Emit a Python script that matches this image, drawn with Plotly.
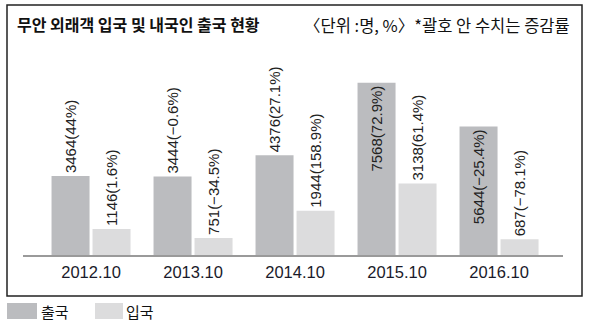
import plotly.graph_objects as go

# Data: departures (출국) and arrivals (입국), with year-over-year change in %
periods = ["2012.10", "2013.10", "2014.10", "2015.10", "2016.10"]
departures = [3464, 3444, 4376, 7568, 5644]
departures_pct = [44, -0.6, 27.1, 72.9, -25.4]
arrivals = [1146, 751, 1944, 3138, 687]
arrivals_pct = [1.6, -34.5, 158.9, 61.4, -78.1]

DARK = "#bbbcbf"
LIGHT = "#dcdcdd"
NUM_FONT = "Liberation Sans, Arial, sans-serif"
KR_FONT = "Noto Sans CJK KR, sans-serif"


def fmt_pct(p):
    s = f"{p:g}"
    return s.replace("-", "\u2212")


def labels(values, pcts):
    return [f"{v}({fmt_pct(p)}%)" for v, p in zip(values, pcts)]


# Put the label inside the top of a bar only when the bar is tall enough
def positions(values):
    return ["inside" if v > 5000 else "outside" for v in values]


fig = go.Figure()
for name, vals, pcts, color in [
    ("출국", departures, departures_pct, DARK),
    ("입국", arrivals, arrivals_pct, LIGHT),
]:
    fig.add_trace(go.Bar(
        x=periods, y=vals, name=name,
        marker=dict(color=color, line=dict(width=0)),
        text=labels(vals, pcts),
        textposition=positions(vals),
        insidetextanchor="end",
        constraintext="none",
        textangle=-90,
        textfont=dict(family=NUM_FONT, size=15, color="#222222"),
        cliponaxis=False,
    ))

# Pixel helpers for paper-referenced decorations
L, R, T, B = 23, 563, 40, 255
W, H = R - L, B - T


def px(x):
    return (x - L) / W


def py(y):
    return (B - y) / H


shapes = [
    # outer frame
    dict(type="rect", xref="paper", yref="paper",
         x0=px(7), x1=px(582), y0=py(296), y1=py(5),
         line=dict(color="#222222", width=1.5), fillcolor="rgba(0,0,0,0)"),
    # legend swatches
    dict(type="rect", xref="paper", yref="paper",
         x0=px(7), x1=px(37), y0=py(319), y1=py(303),
         line=dict(width=0), fillcolor=DARK),
    dict(type="rect", xref="paper", yref="paper",
         x0=px(95), x1=px(123), y0=py(319), y1=py(303),
         line=dict(width=0), fillcolor=LIGHT),
]

annotations = [
    dict(text="무안 외래객 입국 및 내국인 출국 현황", xref="paper", yref="paper",
         x=px(15), y=py(24), xanchor="left", yanchor="middle", showarrow=False,
         font=dict(family=KR_FONT, size=16, color="#111111", weight="bold")),
    dict(text="〈단위 :명, %〉*괄호 안 수치는 증감률", xref="paper", yref="paper",
         x=px(572), y=py(25), xanchor="right", yanchor="middle", showarrow=False,
         font=dict(family=KR_FONT, size=16.5, color="#111111")),
    dict(text="출국", xref="paper", yref="paper",
         x=px(39), y=py(311), xanchor="left", yanchor="middle", showarrow=False,
         font=dict(family=KR_FONT, size=15, color="#111111")),
    dict(text="입국", xref="paper", yref="paper",
         x=px(124), y=py(311), xanchor="left", yanchor="middle", showarrow=False,
         font=dict(family=KR_FONT, size=15, color="#111111")),
]

fig.update_layout(
    width=591, height=326,
    margin=dict(l=L, r=591 - R, t=T, b=326 - B, pad=0),
    paper_bgcolor="white", plot_bgcolor="white",
    barmode="group", bargap=0.196, bargroupgap=0.073,
    showlegend=False,
    shapes=shapes, annotations=annotations,
    xaxis=dict(
        type="category", range=[-0.667, 4.627],
        showline=True, linecolor="#9a9a9a", linewidth=2,
        showgrid=False, zeroline=False,
        ticks="outside", ticklen=1, tickcolor="rgba(0,0,0,0)",
        tickfont=dict(family=NUM_FONT, size=16.5, color="#1a1a2a"),
    ),
    yaxis=dict(
        range=[0, 9442], visible=False, showgrid=False, zeroline=False,
    ),
)

fig.write_html("out.html")
